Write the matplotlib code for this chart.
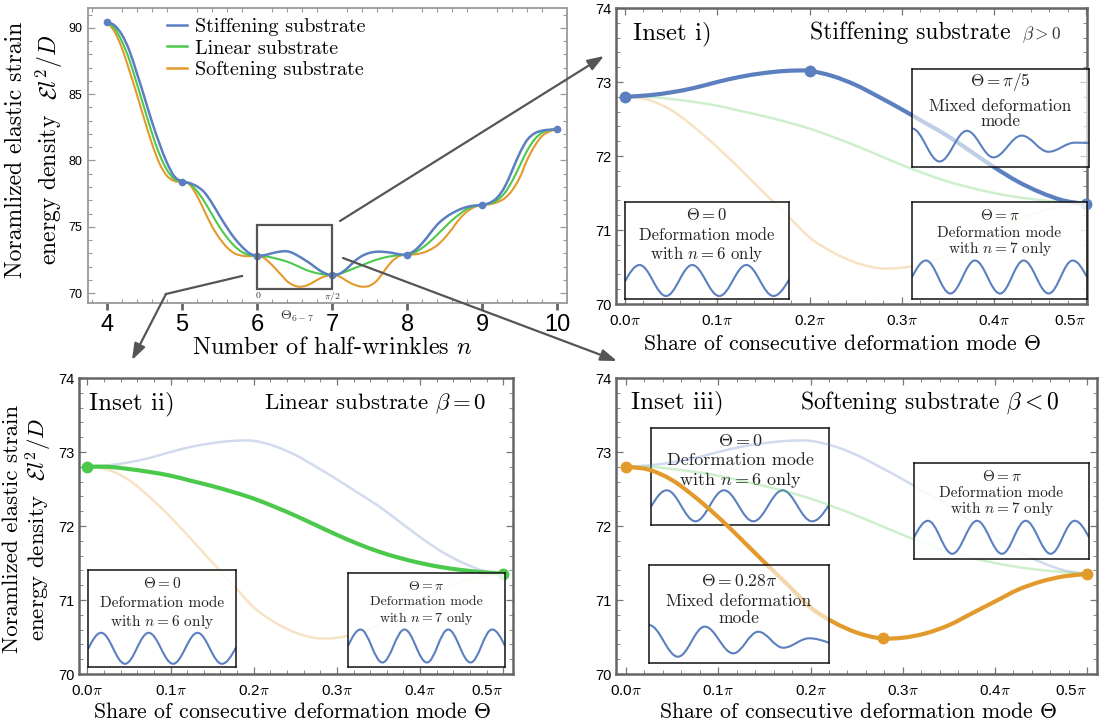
import numpy as np
import matplotlib
matplotlib.use('Agg')
import matplotlib.pyplot as plt
from matplotlib.path import Path
from matplotlib.patches import PathPatch, Rectangle, FancyArrowPatch
from matplotlib.lines import Line2D
from matplotlib.ticker import FixedLocator, MultipleLocator

plt.rcParams['font.family'] = ['cmr10', 'DejaVu Serif']
plt.rcParams['mathtext.fontset'] = 'cm'
plt.rcParams['axes.unicode_minus'] = False

# ---------------- data ----------------
n_markers = [4, 5, 6, 7, 8, 9, 10]
E_markers = [90.45, 78.4, 72.8, 71.35, 72.88, 76.65, 82.35]

n_left = [4.0, 4.1, 4.2, 4.3, 4.4, 4.5, 4.6, 4.7, 4.8, 4.9, 5.0,
          5.1, 5.2, 5.3, 5.4, 5.5, 5.6, 5.7, 5.8, 5.9, 6.0]
stiff_left = [90.45, 90.2, 89.5, 88.3, 86.6, 84.8, 82.95, 81.3, 79.85, 78.8, 78.4,
              78.3, 78.05, 77.6, 76.8, 75.85, 74.95, 74.15, 73.5, 73.0, 72.8]
linear_left = [90.45, 90.0, 89.0, 87.6, 85.8, 83.95, 82.1, 80.5, 79.3, 78.6, 78.4,
               78.25, 77.7, 76.9, 75.95, 75.0, 74.2, 73.55, 73.1, 72.87, 72.8]
soft_left = [90.45, 89.75, 88.5, 86.8, 85.0, 83.1, 81.3, 79.8, 78.85, 78.45, 78.4,
             78.2, 77.35, 76.2, 75.05, 74.15, 73.45, 73.0, 72.82, 72.78, 72.8]

n_right = [7.0, 7.1, 7.2, 7.3, 7.4, 7.5, 7.6, 7.7, 7.8, 7.9, 8.0,
           8.1, 8.2, 8.3, 8.4, 8.5, 8.6, 8.7, 8.8, 8.9, 9.0,
           9.1, 9.2, 9.3, 9.4, 9.5, 9.6, 9.7, 9.8, 9.9, 10.0]
stiff_right = [71.35, 71.45, 71.85, 72.4, 72.8, 73.03, 73.12, 73.1, 73.03, 72.92, 72.88,
               73.2, 73.75, 74.45, 75.15, 75.65, 76.02, 76.3, 76.5, 76.6, 76.65,
               76.8, 77.2, 78.0, 79.25, 80.55, 81.55, 82.05, 82.25, 82.32, 82.35]
linear_right = [71.35, 71.45, 71.65, 71.88, 72.1, 72.33, 72.53, 72.68, 72.79, 72.86, 72.88,
                73.05, 73.4, 73.85, 74.4, 74.95, 75.5, 75.95, 76.35, 76.55, 76.65,
                76.75, 77.0, 77.55, 78.45, 79.6, 80.75, 81.6, 82.1, 82.3, 82.35]
soft_right = [71.35, 71.25, 70.9, 70.62, 70.48, 70.55, 70.95, 71.7, 72.4, 72.8, 72.88,
              72.92, 73.02, 73.25, 73.6, 74.15, 74.85, 75.6, 76.15, 76.5, 76.65,
              76.7, 76.85, 77.15, 77.75, 78.7, 80.05, 81.1, 81.85, 82.2, 82.35]

# share of consecutive mode Theta (in units of pi), segment n = 6 -> 7
theta = [0.0, 0.025, 0.05, 0.075, 0.1, 0.125, 0.15, 0.175, 0.2, 0.225, 0.25,
         0.275, 0.3, 0.325, 0.35, 0.375, 0.4, 0.425, 0.45, 0.475, 0.5]
stiff_theta = [72.80, 72.82, 72.86, 72.92, 73.00, 73.07, 73.12, 73.15, 73.15, 73.08, 72.96,
               72.80, 72.63, 72.45, 72.27, 72.06, 71.85, 71.66, 71.51, 71.40, 71.35]
linear_theta = [72.80, 72.80, 72.77, 72.73, 72.68, 72.61, 72.54, 72.46, 72.37, 72.26, 72.14,
                72.01, 71.88, 71.76, 71.655, 71.57, 71.50, 71.445, 71.405, 71.375, 71.355]
soft_theta = [72.80, 72.76, 72.62, 72.39, 72.12, 71.82, 71.51, 71.21, 70.90, 70.70, 70.56,
              70.485, 70.49, 70.55, 70.66, 70.82, 70.98, 71.14, 71.25, 71.32, 71.35]

inset_markers_theta = {'stiff': [0.0, 0.2, 0.5], 'linear': [0.0, 0.5], 'soft': [0.0, 0.2786, 0.5]}
inset_markers_E = {'stiff': [72.80, 73.143, 71.353], 'linear': [72.80, 71.353], 'soft': [72.80, 70.48, 71.353]}

# mode-shape sketches (extrema; x as share of box width)
wave_n6_x = [0.0, 0.089, 0.25, 0.41, 0.575, 0.74, 0.905, 1.0]
wave_n6_y = [-0.05, 1, -1, 1, -1, 1, -1, 0.05]
wave_n7_x = [0.0, 0.08, 0.219, 0.36, 0.503, 0.638, 0.781, 0.918, 1.0]
wave_n7_y = [0.0, 1, -1, 1, -1, 1, -1, 1, 0.0]
wave_pi5_x = [0.0, 0.156, 0.31, 0.46, 0.62, 0.771, 0.92, 1.0]
wave_pi5_y = [1.0, -1.0, 0.86, -0.75, 0.57, -0.41, 0.14, 0.12]
wave_028_x = [0.0, 0.161, 0.31, 0.468, 0.607, 0.746, 0.89, 1.0]
wave_028_y = [0.98, -1.0, 0.88, -0.79, 0.56, -0.44, 0.15, -0.13]

labels = {'stiff': 'Stiffening substrate', 'linear': 'Linear substrate', 'soft': 'Softening substrate'}
colors = {'stiff': '#5b7fbf', 'linear': '#4cc94c', 'soft': '#e39a2c'}

# ---------------- helpers ----------------
W, H = 1099, 727


def fx(px):
    return px / W


def fy(py):
    return 1 - py / H


def fbox(l, t, r, b):
    return [l / W, 1 - b / H, (r - l) / W, (b - t) / H]


def smooth_path(xs, ys):
    P = np.column_stack([xs, ys]).astype(float)
    ext = np.vstack([P[0], P, P[-1]])
    verts = [P[0]]
    codes = [Path.MOVETO]
    for i in range(len(P) - 1):
        p0, p1, p2, p3 = ext[i], ext[i + 1], ext[i + 2], ext[i + 3]
        verts += [p1 + (p2 - p0) / 6, p2 - (p3 - p1) / 6, p2]
        codes += [Path.CURVE4] * 3
    return Path(verts, codes)


def wave_path(xs, ys, yc, amp):
    pts = [(x, yc + amp * y) for x, y in zip(xs, ys)]
    verts = [pts[0]]
    codes = [Path.MOVETO]
    for i in range(len(pts) - 1):
        (x0, y0), (x1, y1) = pts[i], pts[i + 1]
        dx = x1 - x0
        if i == 0 and abs(ys[0]) < 0.5:
            c1 = (x0 + dx / 3, y0 + (y1 - y0) * 0.52)
        else:
            c1 = (x0 + 0.364 * dx, y0)
        if i == len(pts) - 2 and abs(ys[-1]) < 0.5:
            c2 = (x1 - dx / 3, y1 - (y1 - y0) * 0.52)
        else:
            c2 = (x1 - 0.364 * dx, y1)
        verts += [c1, c2, (x1, y1)]
        codes += [Path.CURVE4] * 3
    return Path(verts, codes)


def draw_smooth(ax, xs, ys, color, lw, alpha=1.0, zorder=2):
    ax.add_patch(PathPatch(smooth_path(xs, ys), fill=False, edgecolor=color, lw=lw,
                           alpha=alpha, zorder=zorder, capstyle='round', joinstyle='round'))


fig = plt.figure(figsize=(W / 100, H / 100), dpi=100)

# ---------------- main plot ----------------
ax = fig.add_axes(fbox(88, 8, 567, 303))
ax.set_xlim(3.75, 10.13)
ax.set_ylim(69.25, 91.5)

series = {
    'stiff': (stiff_left, stiff_theta, stiff_right),
    'linear': (linear_left, linear_theta, linear_right),
    'soft': (soft_left, soft_theta, soft_right),
}
theta_n = [6 + 2 * t for t in theta]
for key, lw in [('soft', 1.5), ('linear', 1.5), ('stiff', 1.8)]:
    left, mid, right = series[key]
    draw_smooth(ax, n_left[0:11], left[0:11], colors[key], lw)
    draw_smooth(ax, n_left[10:21], left[10:21], colors[key], lw)
    draw_smooth(ax, theta_n, mid, colors[key], lw)
    draw_smooth(ax, n_right[0:11], right[0:11], colors[key], lw)
    draw_smooth(ax, n_right[10:21], right[10:21], colors[key], lw)
    draw_smooth(ax, n_right[20:31], right[20:31], colors[key], lw)
ax.plot(n_markers, E_markers, 'o', color=colors['stiff'], ms=4.5, zorder=4, clip_on=False)

ax.add_patch(Rectangle((6, 70.28), 1, 4.85, fill=False, edgecolor='#555555', lw=1.6, zorder=5))

ax.xaxis.set_major_locator(FixedLocator(n_markers))
ax.set_xticklabels([str(v) for v in n_markers], fontfamily='Liberation Sans', fontsize=17)
ax.xaxis.set_minor_locator(MultipleLocator(0.2))
ax.yaxis.set_major_locator(FixedLocator([70, 75, 80, 85, 90]))
ax.set_yticklabels(['70', '75', '80', '85', '90'], fontfamily='Liberation Sans', fontsize=9)
ax.yaxis.set_minor_locator(MultipleLocator(1))
ax.tick_params(axis='x', which='major', direction='out', length=5, width=2, color='#666666',
               pad=3, top=False)
ax.tick_params(axis='x', which='minor', direction='in', length=3, width=0.8, color='#999999',
               top=True)
ax.tick_params(axis='y', which='major', direction='in', length=5, width=0.9, color='#999999',
               pad=4, right=True)
ax.tick_params(axis='y', which='minor', direction='in', length=3, width=0.8, color='#999999',
               right=True)
for s in ax.spines.values():
    s.set_color('#999999')
    s.set_linewidth(1.3)

ax.set_xlabel('Number of half-wrinkles $n$', fontsize=17.5)
ax.xaxis.label.set_va('center')
ax.xaxis.set_label_coords(0.511, -0.153)
ax.set_ylabel('Noramlized elastic strain\nenergy density  $\\mathcal{E}l^2/D$', fontsize=17,
              linespacing=1.3)
ax.yaxis.label.set_va('center')
ax.yaxis.set_label_coords(-0.11, 0.519)

handles = [Line2D([], [], color=colors[k], lw=1.8) for k in ['stiff', 'linear', 'soft']]
ax.legend(handles, [labels[k] for k in ['stiff', 'linear', 'soft']], loc='upper left',
          bbox_to_anchor=(0.165, 0.965), frameon=False, fontsize=14.5, handlelength=1.0,
          handletextpad=0.4, labelspacing=0.15, borderpad=0, borderaxespad=0)

fig.text(fx(258), fy(296), '0', fontsize=7, ha='center', va='center', color='#333333')
fig.text(fx(332), fy(296), '$\\pi/2$', fontsize=7, ha='center', va='center', color='#333333')
fig.text(fx(297), fy(316), '$\\Theta_{6-7}$', fontsize=10, ha='center', va='center', color='#333333')

# ---------------- insets ----------------
inset_specs = [
    ('stiff', (616, 8, 1087, 304), (-0.00976, 0.5008), 'Inset i)', 0.036, 0.894),
    ('linear', (79, 378, 513, 674), (-0.00998, 0.5116), 'Inset ii)', 0.023, 0.894),
    ('soft', (616, 378, 1097, 674), (-0.0108, 0.5105), 'Inset iii)', 0.0306, 0.898),
]
axes_in = {}
for key, box, xlim, ilabel, ilx, base in inset_specs:
    a = fig.add_axes(fbox(*box))
    axes_in[key] = (a, box)
    a.set_xlim(*xlim)
    a.set_ylim(70, 74)
    for other, ys in [('stiff', stiff_theta), ('linear', linear_theta), ('soft', soft_theta)]:
        if other != key:
            draw_smooth(a, theta, ys, colors[other], 1.8, alpha=0.28, zorder=2)
    draw_smooth(a, theta, series[key][1], colors[key], 3.0, zorder=3)
    a.plot(inset_markers_theta[key], inset_markers_E[key], 'o', color=colors[key], ms=7.5,
           zorder=4, clip_on=False)
    xt = [0.0, 0.1, 0.2, 0.3, 0.4, 0.5]
    a.xaxis.set_major_locator(FixedLocator(xt))
    a.set_xticklabels(['%.1f$\\pi$' % v for v in xt], fontfamily='Liberation Sans', fontsize=11)
    a.get_xticklabels()[-1].set_horizontalalignment('right')
    a.xaxis.set_minor_locator(MultipleLocator(0.02))
    yt = [70, 71, 72, 73, 74]
    a.yaxis.set_major_locator(FixedLocator(yt))
    a.set_yticklabels([str(v) for v in yt], fontfamily='Liberation Sans', fontsize=10.5)
    a.yaxis.set_minor_locator(MultipleLocator(0.2))
    a.tick_params(which='major', direction='in', length=5, width=0.9, color='#777777',
                  top=True, right=True)
    a.tick_params(which='minor', direction='in', length=3, width=0.7, color='#888888',
                  top=True, right=True)
    a.tick_params(axis='x', which='major', pad=7)
    a.tick_params(axis='y', which='major', pad=3)
    for s in a.spines.values():
        s.set_color('#666666')
        s.set_linewidth(1.8)
    a.text(ilx, base, ilabel, transform=a.transAxes, fontsize=18, ha='left', va='baseline')

ai = axes_in['stiff'][0]
ai.text(0.837, 0.894, 'Stiffening substrate', transform=ai.transAxes, fontsize=17,
        ha='right', va='baseline')
ai.text(0.861, 0.894, '$\\beta > 0$', transform=ai.transAxes, fontsize=12.5, ha='left',
        va='baseline', color='#333333')
aii = axes_in['linear'][0]
aii.text(0.938, 0.894, 'Linear substrate $\\beta = 0$', transform=aii.transAxes, fontsize=16.5,
         ha='right', va='baseline')
aiii = axes_in['soft'][0]
aiii.text(0.923, 0.898, 'Softening substrate $\\beta < 0$', transform=aiii.transAxes,
          fontsize=17, ha='right', va='baseline')

xlab = 'Share of consecutive deformation mode $\\Theta$'
for key, (xf, yf) in [('stiff', (0.48, -0.135)), ('linear', (0.491, -0.13)),
                      ('soft', (0.503, -0.13))]:
    a = axes_in[key][0]
    a.set_xlabel(xlab, fontsize=15.7)
    a.xaxis.label.set_va('center')
    a.xaxis.set_label_coords(xf, yf)

aii.set_ylabel('Noramlized elastic strain\nenergy density  $\\mathcal{E}l^2/D$', fontsize=16.5,
               linespacing=1.08)
aii.yaxis.label.set_va('center')
aii.yaxis.set_label_coords(-0.118, 0.49)

# ---------------- mode boxes ----------------
txt_n6 = ['$\\Theta = 0$', 'Deformation mode', 'with $n = 6$ only']
txt_n7 = ['$\\Theta = \\pi$', 'Deformation mode', 'with $n = 7$ only']
txt_pi5 = ['$\\Theta = \\pi/5$', 'Mixed deformation', 'mode']
txt_028 = ['$\\Theta = 0.28\\pi$', 'Mixed deformation', 'mode']
waves = {'n6': (wave_n6_x, wave_n6_y), 'n7': (wave_n7_x, wave_n7_y),
         'pi5': (wave_pi5_x, wave_pi5_y), '028': (wave_028_x, wave_028_y)}

boxes = [
    ('stiff', (912, 69, 1089, 167), txt_pi5, (82, 106, 121.5), 12.3, 'pi5', 145, 16.5, 5, 0.62),
    ('stiff', (625, 202, 789, 299), txt_n6, (215, 235, 254), 12.0, 'n6', 280.5, 15.5, 5, 0.85),
    ('stiff', (912, 202, 1087, 299), txt_n7, (216, 232.7, 249.3), 11.0, 'n7', 277, 16.5, 5, 0.85),
    ('linear', (88, 570, 236, 667), txt_n6, (583.3, 602.7, 622.3), 11.0, 'n6', 648.3, 15.5, 5, 0.85),
    ('linear', (348, 573, 505, 667), txt_n7, (586, 601.7, 618.3), 10.0, 'n7', 646, 16.5, 5, 0.85),
    ('soft', (651, 428, 829, 525), txt_n6, (440.7, 460.7, 480), 13.0, 'n6', 505.8, 15.5, 1.5, 0.9),
    ('soft', (649, 565, 829, 663), txt_028, (581, 601, 618.3), 12.6, '028', 640.7, 16, 5, 0.6),
    ('soft', (914, 463, 1089, 559), txt_n7, (476, 492.7, 509.3), 11.0, 'n7', 537.3, 16.5, 5, 0.85),
]
for parent, (l, t, r, b), lines, ly, fs, wk, wc, wa, z, alpha in boxes:
    pa, (pl, pt, pr, pb) = axes_in[parent]
    bounds = [(l - pl) / (pr - pl), (pb - b) / (pb - pt), (r - l) / (pr - pl), (b - t) / (pb - pt)]
    bx = pa.inset_axes(bounds, zorder=z)
    bx.set_xlim(0, 1)
    bx.set_ylim(0, 1)
    bx.set_xticks([])
    bx.set_yticks([])
    bx.patch.set_facecolor('white')
    bx.patch.set_alpha(alpha)
    for s in bx.spines.values():
        s.set_color('#111111')
        s.set_linewidth(1.1)
    hgt = b - t
    for txt, y in zip(lines, ly):
        bx.text(0.5, (b - y) / hgt, txt, transform=bx.transAxes, fontsize=fs,
                ha='center', va='center', color='#222222')
    wx, wy = waves[wk]
    bx.add_patch(PathPatch(wave_path(wx, wy, (b - wc) / hgt, wa / hgt), fill=False,
                           edgecolor=colors['stiff'], lw=1.5))

# ---------------- arrows ----------------
arrow_kw = dict(arrowstyle='-|>,head_length=0.7,head_width=0.25', mutation_scale=14,
                color='#555555', lw=1.6, shrinkA=0, shrinkB=0, transform=fig.transFigure)
fig.add_artist(FancyArrowPatch((fx(340), fy(221)), (fx(604), fy(56)), **arrow_kw))
fig.add_artist(FancyArrowPatch((fx(343), fy(258)), (fx(617), fy(361)), **arrow_kw))
fig.add_artist(Line2D([fx(242), fx(166)], [fy(276), fy(294)], color='#555555', lw=1.6,
                      transform=fig.transFigure))
fig.add_artist(FancyArrowPatch((fx(166), fy(294)), (fx(132), fy(360)), **arrow_kw))

fig.savefig('out.png', dpi=100)
